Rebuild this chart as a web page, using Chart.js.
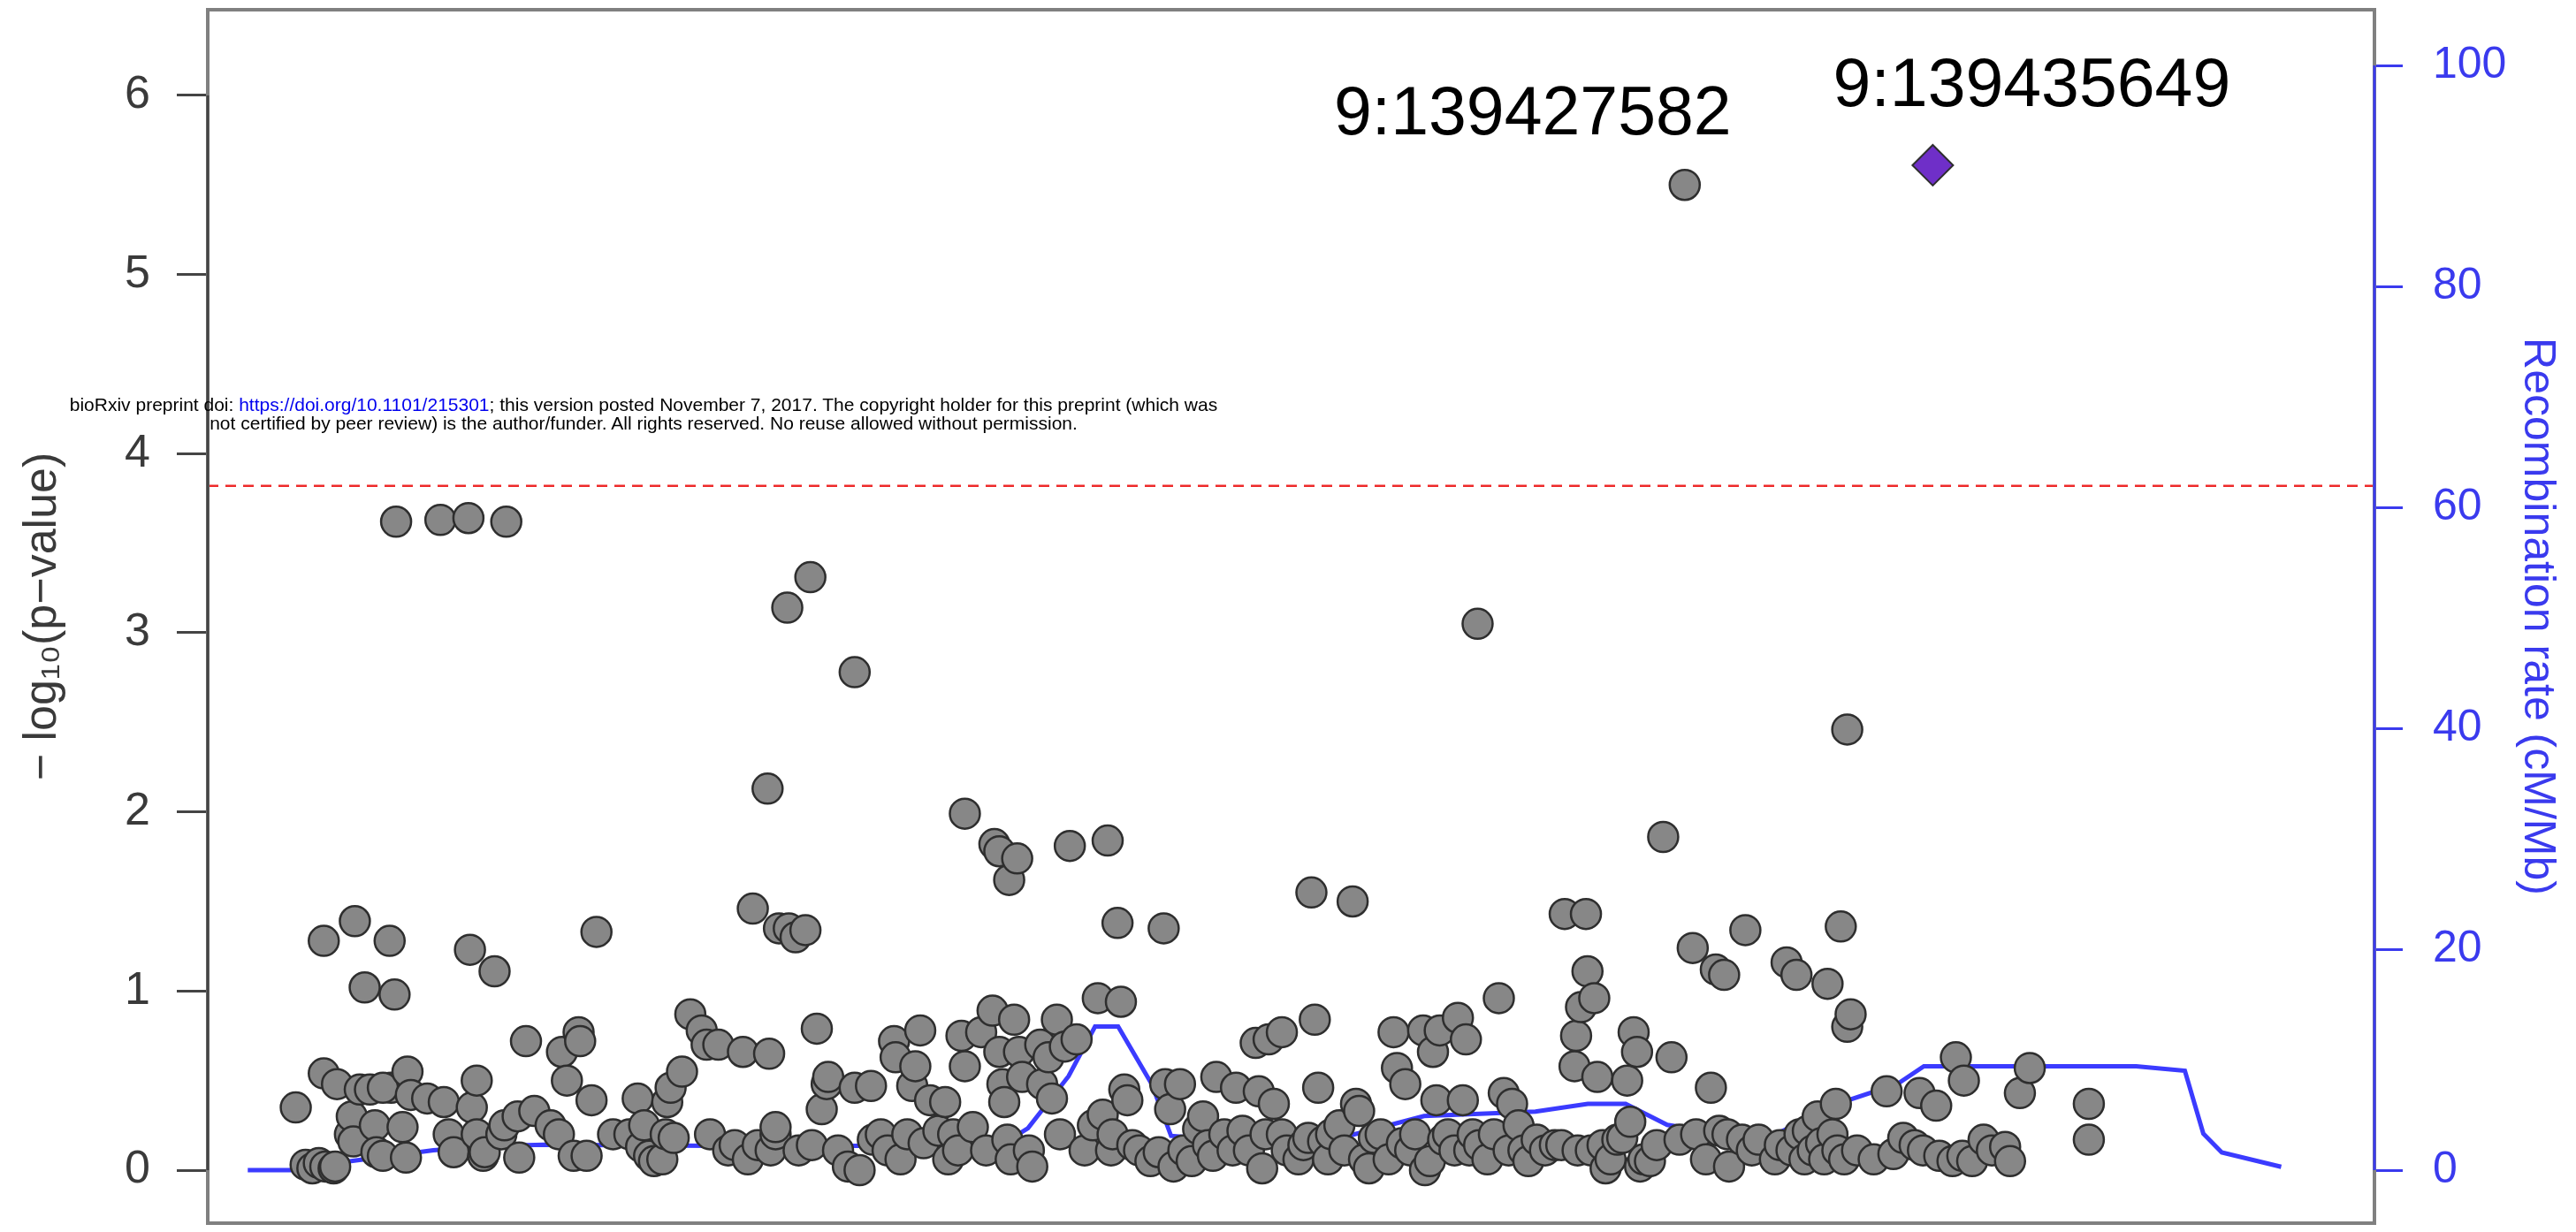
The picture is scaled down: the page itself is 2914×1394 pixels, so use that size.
<!DOCTYPE html>
<html>
<head>
<meta charset="utf-8">
<title>Regional association plot</title>
<script src="https://cdn.jsdelivr.net/npm/chart.js@4.4.1/dist/chart.umd.min.js"></script>
<style>
  html, body { margin: 0; padding: 0; background: #ffffff; }
  #wrap { position: relative; width: 2914px; height: 1394px; }
  #chart { position: absolute; left: 0; top: 0; }
  #notice {
    position: absolute; left: 0; top: 447px; width: 1456px;
    text-align: center; white-space: nowrap;
    font: 21px/21px "Liberation Sans", Arial, sans-serif; color: #000;
  }
  #notice span { color: #0000ee; }
</style>
</head>
<body>
<div id="wrap">
  <canvas id="chart" width="2914" height="1394"></canvas>
  <div id="notice">bioRxiv preprint doi: <span>https://doi.org/10.1101/215301</span>; this version posted November 7, 2017. The copyright holder for this preprint (which was<br>not certified by peer review) is the author/funder. All rights reserved. No reuse allowed without permission.</div>
</div>
<script>
// positions are kb past chr9:139,370,000
const snpPosKb = [
    12.46, 12.78, 13.00, 13.21, 13.42, 13.69, 13.37, 13.37, 13.80, 13.74,
    14.22, 14.28, 14.38, 14.70, 14.54, 14.33, 14.87, 15.03, 15.08, 15.29,
    15.51, 15.67, 15.72, 15.56, 15.29, 15.93, 16.04, 16.09, 16.20, 16.73,
    17.16, 17.27, 17.43, 17.59, 18.07, 18.12, 18.18, 18.34, 18.34, 18.55,
    18.60, 18.92, 19.14, 19.30, 19.24, 19.72, 19.67, 19.94, 20.21, 20.74,
    21.01, 21.11, 21.27, 21.65, 21.70, 21.49, 22.07, 22.23, 21.91, 22.77,
    23.30, 23.57, 23.68, 23.78, 23.94, 24.10, 24.37, 24.48, 24.53, 24.64,
    24.74, 25.01, 25.28, 25.65, 25.81, 25.92, 26.19, 26.51, 26.72, 26.99,
    27.15, 27.31, 27.47, 27.79, 27.84, 27.89, 28.05, 28.05, 28.16, 28.43,
    28.48, 28.70, 28.80, 29.02, 29.18, 29.23, 29.39, 29.55, 29.71, 29.76,
    30.08, 30.40, 30.62, 30.62, 30.78, 31.15, 31.21, 31.47, 31.69, 31.90,
    31.95, 32.11, 32.33, 32.49, 32.59, 32.75, 32.86, 33.07, 33.34, 33.56,
    33.66, 33.82, 33.98, 34.20, 34.09, 34.20, 34.46, 34.73, 34.89, 35.10,
    35.16, 35.32, 35.32, 35.42, 35.48, 35.58, 35.64, 35.69, 35.80, 35.90,
    35.96, 36.06, 36.28, 36.39, 36.65, 36.71, 36.92, 37.03, 37.19, 37.29,
    37.45, 37.61, 37.83, 38.09, 38.36, 38.52, 38.68, 38.84, 38.95, 39.00,
    39.16, 39.27, 39.38, 39.48, 39.64, 39.86, 40.23, 40.50, 40.66, 40.71,
    40.87, 40.98, 41.19, 41.30, 41.57, 41.78, 41.94, 42.10, 42.26, 42.37,
    42.63, 42.90, 43.01, 43.22, 43.43, 43.65, 43.75, 43.86, 43.97, 44.07,
    44.24, 44.50, 44.50, 44.66, 45.04, 45.20, 45.36, 45.46, 45.57, 45.68,
    45.84, 46.00, 46.10, 46.37, 46.53, 46.80, 46.91, 47.01, 47.17, 47.33,
    47.49, 47.71, 47.97, 48.13, 48.24, 48.40, 48.51, 48.67, 48.83, 49.09,
    49.15, 49.31, 49.41, 49.52, 49.63, 49.74, 49.90, 50.11, 50.22, 50.38,
    50.48, 50.59, 50.70, 50.86, 50.91, 51.18, 51.39, 51.55, 51.71, 51.87,
    51.98, 52.19, 52.35, 52.51, 52.78, 53.05, 53.37, 53.58, 53.69, 54.01,
    54.06, 54.11, 54.22, 54.38, 54.43, 54.54, 54.65, 54.75, 54.92, 55.02,
    55.18, 55.40, 55.56, 55.72, 55.82, 55.93, 56.04, 56.14, 56.25, 56.46,
    56.68, 56.89, 57.16, 57.42, 57.59, 57.85, 57.96, 58.28, 58.44, 58.60,
    58.71, 58.87, 58.98, 59.03, 59.45, 59.56, 59.77, 59.99, 60.52, 60.68,
    60.90, 61.06, 61.22, 61.32, 61.48, 61.59, 61.75, 61.91, 62.02, 62.12,
    62.23, 62.39, 62.50, 62.55, 62.66, 62.77, 62.87, 62.87, 62.98, 63.19,
    63.73, 64.15, 64.37, 64.69, 65.06, 65.22, 65.33, 65.76, 65.86, 66.29,
    66.40, 66.66, 66.61, 66.93, 67.30, 67.57, 68.00, 68.16, 68.48, 68.80,
    70.72, 70.72
];
const snpLogP = [
    0.35, 0.03, 0.01, 0.04, 0.02, 0.01, 1.28, 0.54, 0.48, 0.02,
    0.20, 0.30, 1.39, 1.02, 0.45, 0.16, 0.45, 0.25, 0.10, 0.08,
    1.28, 0.98, 3.62, 0.46, 0.46, 0.24, 0.07, 0.55, 0.42, 0.40,
    3.63, 0.38, 0.20, 0.10, 3.64, 1.23, 0.35, 0.50, 0.20, 0.08,
    0.10, 1.11, 0.20, 3.62, 0.25, 0.07, 0.30, 0.72, 0.33, 0.25,
    0.20, 0.66, 0.50, 0.77, 0.72, 0.08, 0.39, 1.33, 0.08, 0.20,
    0.20, 0.40, 0.13, 0.25, 0.08, 0.05, 0.06, 0.20, 0.38, 0.46,
    0.18, 0.55, 0.87, 0.78, 0.70, 0.20, 0.70, 0.11, 0.14, 0.66,
    0.06, 1.46, 0.14, 2.13, 0.65, 0.11, 0.20, 0.24, 1.35, 3.14,
    1.35, 1.30, 0.11, 1.34, 3.31, 0.14, 0.79, 0.34, 0.48, 0.52,
    0.11, 0.02, 2.78, 0.46, 0.00, 0.47, 0.17, 0.20, 0.11, 0.72,
    0.63, 0.06, 0.20, 0.47, 0.58, 0.78, 0.15, 0.39, 0.22, 0.38,
    0.06, 0.20, 0.11, 1.99, 0.75, 0.58, 0.24, 0.77, 0.11, 0.89,
    1.82, 1.78, 0.66, 0.48, 0.38, 0.17, 1.62, 0.06, 0.84, 1.74,
    0.66, 0.52, 0.11, 0.02, 0.70, 0.48, 0.63, 0.40, 0.84, 0.20,
    0.69, 1.81, 0.73, 0.11, 0.25, 0.96, 0.31, 1.84, 0.11, 0.20,
    1.38, 0.94, 0.45, 0.39, 0.14, 0.11, 0.05, 0.10, 1.35, 0.48,
    0.34, 0.02, 0.48, 0.11, 0.05, 0.23, 0.30, 0.14, 0.08, 0.52,
    0.20, 0.11, 0.46, 0.22, 0.11, 0.71, 0.44, 0.01, 0.20, 0.73,
    0.37, 0.77, 0.20, 0.11, 0.06, 0.14, 0.18, 1.55, 0.84, 0.46,
    0.16, 0.06, 0.20, 0.25, 0.11, 1.50, 0.37, 0.33, 0.06, 0.01,
    0.18, 0.20, 0.06, 0.77, 0.57, 0.15, 0.48, 0.11, 0.20, 0.78,
    0.00, 0.05, 0.66, 0.39, 0.78, 0.17, 0.20, 0.11, 0.85, 0.39,
    0.73, 0.11, 0.20, 3.05, 0.14, 0.06, 0.20, 0.96, 0.43, 0.11,
    0.37, 0.25, 0.11, 0.05, 0.17, 0.11, 0.14, 0.14, 1.43, 0.58,
    0.75, 0.11, 0.91, 1.43, 1.11, 0.11, 0.96, 0.52, 0.14, 0.01,
    0.06, 0.17, 0.18, 0.50, 0.27, 0.77, 0.66, 0.02, 0.06, 0.05,
    0.14, 1.86, 0.63, 0.17, 5.50, 1.24, 0.20, 0.06, 0.46, 1.12,
    0.22, 1.09, 0.20, 0.02, 0.17, 1.34, 0.11, 0.17, 0.06, 0.14,
    1.16, 0.11, 1.09, 0.20, 0.06, 0.22, 0.11, 0.30, 0.15, 0.06,
    1.04, 0.20, 0.37, 0.11, 1.36, 0.06, 2.46, 0.80, 0.87, 0.11,
    0.06, 0.44, 0.09, 0.18, 0.14, 0.43, 0.11, 0.36, 0.08, 0.05,
    0.63, 0.50, 0.08, 0.05, 0.17, 0.11, 0.13, 0.05, 0.43, 0.57,
    0.37, 0.17
];

// lead SNP (diamond)
const leadPosKb = 65.65;
const leadLogP = 5.61;

// recombination rate (cM/Mb)
const recombPosKb = [10.90, 12.36, 14.20, 16.93, 19.12, 20.52, 26.01, 35.33, 36.25, 37.57,
                     38.43, 39.18, 40.27, 40.90, 43.09, 46.53, 49.12, 52.74, 54.44, 55.67,
                     57.02, 57.69, 60.19, 62.97, 64.50, 65.36, 72.26, 73.84, 74.44, 75.04,
                     76.97];
const recombRate = [0, 0, 0.8, 1.8, 2.2, 2.3, 2.2, 2.2, 3.8, 8.5,
                    13.0, 13.0, 7.8, 3.1, 2.6, 3.0, 4.9, 5.3, 6.0, 6.0,
                    4.1, 3.8, 2.8, 6.4, 7.8, 9.4, 9.4, 9.0, 3.3, 1.6,
                    0.3];

const sigThreshold = 3.82;

const labelText = ['9:139427582', '9:139435649'];
const labelPosKb = [57.59, 65.65];
const labelLogP = [5.50, 5.61];

const leftTicks = [0, 1, 2, 3, 4, 5, 6];
const rightTicks = [0, 20, 40, 60, 80, 100];

// layout bits (pixels), not data
const labelOffsets = [[-172, -78], [112, -88]];
const blue = '#3a3aee';

Chart.defaults.font.family = "'Liberation Sans', Arial, sans-serif";

// fixed axis widths, no extra label padding above/below the plot
function fixWidth(w) {
    return function (s) {
        s.width = w;
        s.paddingTop = 0;
        s.paddingBottom = 0;
    };
}

const framePlugin = {
    id: 'frame',
    beforeDatasetsDraw(chart) {
        const { ctx, chartArea: a, scales } = chart;
        const ty = scales.y.getPixelForValue(sigThreshold);
        ctx.save();
        ctx.strokeStyle = '#ee2a2a';
        ctx.lineWidth = 2.5;
        ctx.setLineDash([12, 8]);
        ctx.beginPath();
        ctx.moveTo(a.left, ty);
        ctx.lineTo(a.right, ty);
        ctx.stroke();
        ctx.restore();
    },
    afterDatasetsDraw(chart) {
        const { ctx, chartArea: a, scales } = chart;
        ctx.save();
        // box
        ctx.strokeStyle = '#808080';
        ctx.lineWidth = 4;
        ctx.strokeRect(a.left, a.top, a.right - a.left, a.bottom - a.top);
        // left axis line
        ctx.strokeStyle = '#444';
        ctx.lineWidth = 3;
        ctx.beginPath();
        ctx.moveTo(a.left, scales.y.getPixelForValue(leftTicks[0]));
        ctx.lineTo(a.left, scales.y.getPixelForValue(leftTicks[leftTicks.length - 1]));
        ctx.stroke();
        // right axis line
        ctx.strokeStyle = blue;
        ctx.beginPath();
        ctx.moveTo(a.right, scales.y2.getPixelForValue(rightTicks[0]));
        ctx.lineTo(a.right, scales.y2.getPixelForValue(rightTicks[rightTicks.length - 1]));
        ctx.stroke();
        // SNP labels
        ctx.fillStyle = '#000';
        ctx.font = "77px 'Liberation Sans', Arial, sans-serif";
        ctx.textAlign = 'center';
        ctx.textBaseline = 'middle';
        labelText.forEach(function (t, i) {
            const px = scales.x.getPixelForValue(labelPosKb[i]) + labelOffsets[i][0];
            const py = scales.y.getPixelForValue(labelLogP[i]) + labelOffsets[i][1];
            ctx.fillText(t, px, py);
        });
        ctx.restore();
    }
};

const snpPoints = snpPosKb.map((p, i) => ({ x: p, y: snpLogP[i] }));
const recombPoints = recombPosKb.map((p, i) => ({ x: p, y: recombRate[i] }));

new Chart(document.getElementById('chart'), {
    type: 'scatter',
    data: {
        datasets: [
            {
                label: 'Recombination rate',
                data: recombPoints,
                yAxisID: 'y2',
                showLine: true,
                borderColor: '#3b3bff',
                borderWidth: 5,
                pointRadius: 0,
                tension: 0,
                order: 3
            },
            {
                label: 'SNPs',
                data: snpPoints,
                yAxisID: 'y',
                pointRadius: 17,
                backgroundColor: '#878787',
                borderColor: '#2e2e2e',
                borderWidth: 2.5,
                order: 2
            },
            {
                label: 'Lead SNP',
                data: [{ x: leadPosKb, y: leadLogP }],
                yAxisID: 'y',
                pointStyle: 'rectRot',
                pointRadius: 23,
                backgroundColor: '#6f2fc8',
                borderColor: '#2e2e2e',
                borderWidth: 2,
                order: 1
            }
        ]
    },
    options: {
        responsive: false,
        animation: false,
        devicePixelRatio: 1,
        layout: { autoPadding: false, padding: { top: 11, bottom: 10, left: 0, right: 0 } },
        plugins: { legend: { display: false }, tooltip: { enabled: false } },
        scales: {
            x: { type: 'linear', display: false, min: 9.6, max: 80.0 },
            y: {
                position: 'left',
                min: -0.296,
                max: 6.478,
                afterFit: fixWidth(235),
                afterBuildTicks: function (s) { s.ticks = leftTicks.map(v => ({ value: v })); },
                border: { display: false },
                grid: { drawOnChartArea: false, drawTicks: true, tickLength: 35, tickWidth: 3, tickColor: '#444' },
                ticks: { padding: 30, color: '#3a3a3a', font: { size: 52 } },
                title: {
                    display: true,
                    text: '\u2212 log\u2081\u2080(p\u2212value)',
                    color: '#3a3a3a',
                    font: { size: 52 },
                    padding: { top: 17, bottom: 0 }
                }
            },
            y2: {
                position: 'right',
                min: -4.8,
                max: 105.04,
                afterFit: fixWidth(228),
                afterBuildTicks: function (s) { s.ticks = rightTicks.map(v => ({ value: v })); },
                border: { display: false },
                grid: { drawOnChartArea: false, drawTicks: true, tickLength: 32, tickWidth: 3, tickColor: blue },
                ticks: { padding: 34, color: blue, font: { size: 50 } },
                title: {
                    display: true,
                    text: 'Recombination rate (cM/Mb)',
                    color: blue,
                    font: { size: 50 },
                    padding: { top: 14, bottom: 0 }
                }
            }
        }
    },
    plugins: [framePlugin]
});
</script>
</body>
</html>
